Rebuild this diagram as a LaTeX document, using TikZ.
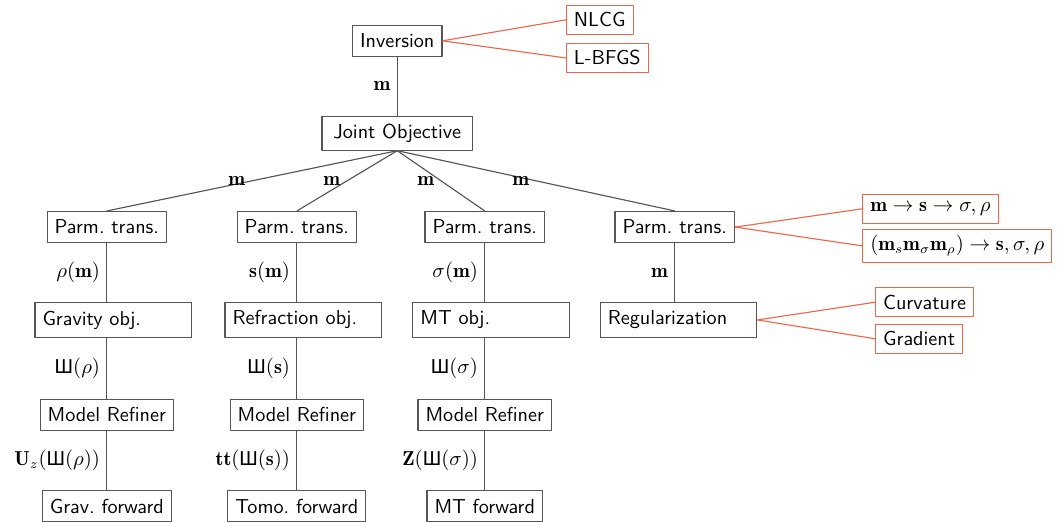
\documentclass[tikz,border=0pt]{standalone}
\usepackage{fontspec}
\newfontfamily\shafont{Liberation Sans}
\newcommand{\shaop}{\mbox{\shafont Ш}}
\newcommand{\diagfont}{\fontsize{10.7}{13}\selectfont}
\definecolor{optred}{RGB}{238,102,74}
\definecolor{boxgray}{RGB}{85,85,85}
\begin{document}
\begin{tikzpicture}[line join=bevel,font=\diagfont]
  \tikzstyle{box}=[draw=boxgray,line width=0.6pt,font=\diagfont\sffamily,inner xsep=4pt,inner ysep=3pt,minimum height=16.5pt]
  \tikzstyle{objbox}=[box,text width=75pt,align=left,minimum height=18.5pt]
  \tikzstyle{optbox}=[draw=optred,line width=0.6pt,font=\diagfont\sffamily,inner xsep=4pt,inner ysep=3pt,minimum height=15.5pt,anchor=west]
  \tikzstyle{link}=[draw=boxgray,line width=0.6pt]
  \tikzstyle{optlink}=[draw=optred,line width=0.6pt]
  \useasboundingbox (0,0) rectangle (19.82,-9.742);
  \node[box] (inv) at (7.40,-0.76) {Inversion};
  \node[box,inner xsep=6pt,minimum height=18pt] (joint) at (7.40,-2.48) {Joint Objective};
  \node[optbox] (nlcg) at (10.54,-0.37) {NLCG};
  \node[optbox] (lbfgs) at (10.54,-1.08) {L-BFGS};
  \node[box] (P_1) at (1.99,-4.23)  {Parm.\ trans.};
  \node[box] (P_2) at (5.53,-4.23)  {Parm.\ trans.};
  \node[box] (P_3) at (9.03,-4.23)  {Parm.\ trans.};
  \node[box] (P_4) at (12.57,-4.23) {Parm.\ trans.};
  \node[optbox] (T_1) at (16.06,-3.89) {$\mathbf{m}\rightarrow\mathbf{s}\rightarrow\sigma,\rho$};
  \node[optbox] (T_2) at (16.06,-4.58) {$\mathbf{(}\mathbf{m}_s\mathbf{m}_\sigma\mathbf{m}_\rho\mathbf{)}\rightarrow\mathbf{s},\sigma,\rho$};
  \node[objbox] (O_1) at (2.11,-5.96)  {Gravity obj.};
  \node[objbox] (O_2) at (5.65,-5.96)  {Refraction obj.};
  \node[objbox] (O_3) at (9.15,-5.96)  {MT obj.};
  \node[objbox] (O_4) at (12.64,-5.96) {Regularization};
  \node[optbox] (curv) at (16.30,-5.63) {Curvature};
  \node[optbox] (grad) at (16.30,-6.31) {Gradient};
  \node[box] (R_1) at (1.99,-7.73) {Model Refiner};
  \node[box] (R_2) at (5.53,-7.73) {Model Refiner};
  \node[box] (R_3) at (9.03,-7.73) {Model Refiner};
  \node[box] (F_1) at (1.99,-9.43) {Grav.\ forward};
  \node[box] (F_2) at (5.53,-9.43) {Tomo.\ forward};
  \node[box] (F_3) at (9.03,-9.43) {MT forward};
  \draw[link] (inv) -- node[midway,left] {$\mathbf{m}$} (joint);
  \draw[link] (joint.south) -- node[midway,left] {$\mathbf{m}$} (P_1.north);
  \draw[link] (joint.south) -- node[midway,left] {$\mathbf{m}$} (P_2.north);
  \draw[link] (joint.south) -- node[midway,left] {$\mathbf{m}$} (P_3.north);
  \draw[link] (joint.south) -- node[midway,left] {$\mathbf{m}$} (P_4.north);
  \draw[link] (P_1.south) -- node[midway,left] {$\rho(\mathbf{m})$} (P_1.south |- O_1.north);
  \draw[link] (P_2.south) -- node[midway,left] {$\mathbf{s}(\mathbf{m})$} (P_2.south |- O_2.north);
  \draw[link] (P_3.south) -- node[midway,left] {$\sigma(\mathbf{m})$} (P_3.south |- O_3.north);
  \draw[link] (P_4.south) -- node[midway,left] {$\mathbf{m}$} (P_4.south |- O_4.north);
  \draw[link] (R_1.north |- O_1.south) -- node[midway,left] {$\shaop(\rho)$} (R_1.north);
  \draw[link] (R_2.north |- O_2.south) -- node[midway,left] {$\shaop(\mathbf{s})$} (R_2.north);
  \draw[link] (R_3.north |- O_3.south) -- node[midway,left] {$\shaop(\sigma)$} (R_3.north);
  \draw[link] (R_1) -- node[midway,left] {$\mathbf{U}_z(\shaop(\rho))$} (F_1);
  \draw[link] (R_2) -- node[midway,left] {$\mathbf{tt}(\shaop(\mathbf{s}))$} (F_2);
  \draw[link] (R_3) -- node[midway,left] {$\mathbf{Z}(\shaop(\sigma))$} (F_3);
  \draw[optlink] (inv.east) -- (nlcg.west);
  \draw[optlink] (inv.east) -- (lbfgs.west);
  \draw[optlink] (P_4.east) -- (T_1.west);
  \draw[optlink] (P_4.east) -- (T_2.west);
  \draw[optlink] (O_4.east) -- (curv.west);
  \draw[optlink] (O_4.east) -- (grad.west);
\end{tikzpicture}
\end{document}
